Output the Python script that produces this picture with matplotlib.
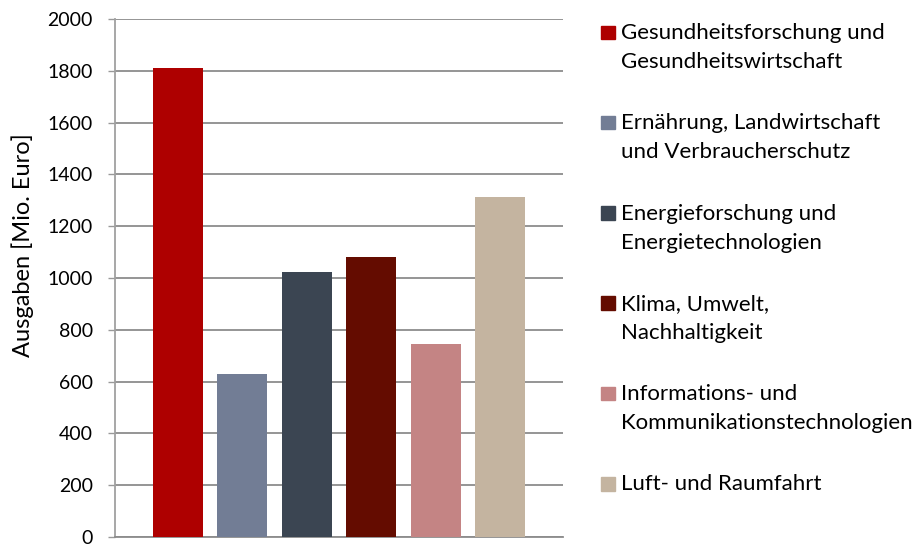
import matplotlib
matplotlib.use("Agg")
import matplotlib.pyplot as plt
from matplotlib.patches import Rectangle

# data
categories = ["Gesundheitsforschung und\nGesundheitswirtschaft",
              "Ernährung, Landwirtschaft\nund Verbraucherschutz",
              "Energieforschung und\nEnergietechnologien",
              "Klima, Umwelt,\nNachhaltigkeit",
              "Informations- und\nKommunikationstechnologien",
              "Luft- und Raumfahrt"]
ausgaben = [1810, 628, 1022, 1083, 747, 1311]
colors = ["#ae0000", "#727d95", "#3b4552", "#640c00", "#c48484", "#c4b4a0"]
yticks = [0, 200, 400, 600, 800, 1000, 1200, 1400, 1600, 1800, 2000]

W, H = 915, 544
plt.rcParams['font.family'] = ['Lato', 'DejaVu Sans']

fig = plt.figure(figsize=(W / 100, H / 100), dpi=100)
ax = fig.add_axes([115 / W, 7 / H, 448 / W, 518 / H])

x = range(len(ausgaben))
ax.bar(x, ausgaben, width=0.774, color=colors, zorder=3)

ax.set_xlim(-0.975, 5.975)
ax.set_ylim(0, 2000)
ax.set_yticks(yticks)
ax.set_xticks([])
ax.yaxis.grid(True, color="#8c8c8c", linewidth=1.3, zorder=0)
ax.tick_params(axis="y", length=5, width=1, color="#999999", labelsize=14,
               pad=11, labelcolor="black")
for s in ["top", "right"]:
    ax.spines[s].set_visible(False)
ax.spines["left"].set_color("#a0a0a0")
ax.spines["left"].set_linewidth(1.3)
ax.spines["bottom"].set_color("#8c8c8c")
ax.spines["bottom"].set_linewidth(1.3)

fig.text(23 / W, 1 - 245 / H, "Ausgaben [Mio. Euro]", rotation=90,
         ha="center", va="center", fontsize=17)

# legend drawn by hand: square sits on the baseline of the first line
for i, (lab, c) in enumerate(zip(categories, colors)):
    base = 39 + i * 90.3
    fig.add_artist(Rectangle((601 / W, 1 - base / H), 14 / W, 13.5 / H,
                             transform=fig.transFigure, color=c))
    for j, line in enumerate(lab.split("\n")):
        fig.text(621 / W, 1 - (base + j * 29) / H, line, ha="left",
                 va="baseline", fontsize=16)

fig.savefig("out.png", dpi=100)
